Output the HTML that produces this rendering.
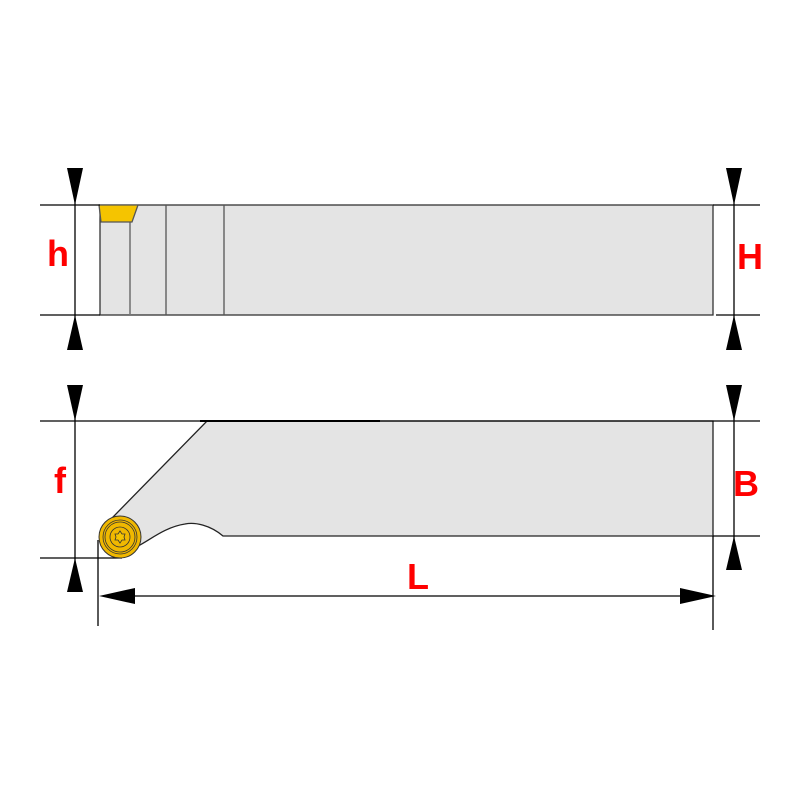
<!DOCTYPE html>
<html><head><meta charset="utf-8"><style>html,body{margin:0;padding:0;background:#fff}svg{display:block}</style></head>
<body>
<svg width="800" height="800" viewBox="0 0 800 800" xmlns="http://www.w3.org/2000/svg">
<rect width="800" height="800" fill="#fff"/>
<g stroke="#000" stroke-width="1.3" fill="none">
<!-- top view -->
<rect x="100" y="205" width="613" height="110" fill="#e4e4e4" stroke="#333"/>
<line x1="130" y1="222" x2="130" y2="315" stroke="#777" stroke-width="1.6"/>
<line x1="166" y1="205" x2="166" y2="315" stroke="#555"/>
<line x1="224" y1="205" x2="224" y2="315" stroke="#555"/>
<polygon points="99,205 138,205 132,222 101,222" fill="#f5c400" stroke="#555"/>
<line x1="40" y1="205" x2="100" y2="205"/>
<line x1="40" y1="315" x2="100" y2="315"/>
<line x1="713" y1="205" x2="760" y2="205"/>
<line x1="716" y1="315" x2="760" y2="315"/>
<line x1="75" y1="170" x2="75" y2="350"/>
<line x1="734" y1="170" x2="734" y2="350"/>
<!-- side view -->
<path d="M207,421 L713,421 L713,536 L223,536 C210,525 195,522 185,524 C165,527 150,540 138,546 L113,517 Z" fill="#e4e4e4" stroke="#222"/>
<line x1="40" y1="421" x2="760" y2="421"/>
<line x1="200" y1="421" x2="380" y2="421" stroke-width="2"/>
<line x1="40" y1="558" x2="122" y2="558"/>
<line x1="713" y1="536" x2="760" y2="536"/>
<line x1="75" y1="386" x2="75" y2="592"/>
<line x1="734" y1="386" x2="734" y2="570"/>
<line x1="98" y1="540" x2="98" y2="626"/>
<line x1="713" y1="536" x2="713" y2="630"/>
<line x1="130" y1="596" x2="685" y2="596"/>
</g>
<circle cx="120" cy="537" r="21" fill="#f0b800" stroke="#333" stroke-width="1"/>
<circle cx="120" cy="537" r="17" fill="none" stroke="#333" stroke-width="0.8"/>
<circle cx="120" cy="537" r="15" fill="none" stroke="#333" stroke-width="0.8"/>
<circle cx="120" cy="537" r="10" fill="none" stroke="#333" stroke-width="0.8"/>
<polygon points="120,531 122,534 125,534 124,537 125,540 122,540 120,543 118,540 115,540 116,537 115,534 118,534" fill="#f5c400" stroke="#333" stroke-width="0.8"/>
<g fill="#000">
<polygon points="67,168 83,168 75,205"/>
<polygon points="67,350 83,350 75,315"/>
<polygon points="726,168 742,168 734,205"/>
<polygon points="726,350 742,350 734,315"/>
<polygon points="67,385 83,385 75,421"/>
<polygon points="67,592 83,592 75,558"/>
<polygon points="726,385 742,385 734,421"/>
<polygon points="726,570 742,570 734,536"/>
<polygon points="99,596 135,588 135,604"/>
<polygon points="716,596 680,588 680,604"/>
</g>
<g fill="#ff0000" font-family="Liberation Sans, sans-serif" font-weight="bold" font-size="36" text-anchor="middle">
<text x="58" y="266">h</text>
<text x="750" y="269">H</text>
<text x="60" y="493">f</text>
<text x="746" y="496">B</text>
<text x="418" y="589">L</text>
</g>
</svg>
</body></html>
